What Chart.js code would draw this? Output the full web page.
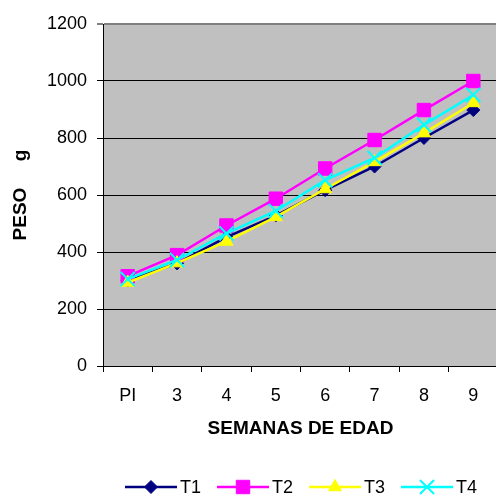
<!DOCTYPE html>
<html>
<head>
<meta charset="utf-8">
<script src="https://cdn.jsdelivr.net/npm/chart.js@4.4.1/dist/chart.umd.min.js"></script>
<style>
html,body{margin:0;padding:0;background:#fff;overflow:hidden;width:496px;height:498px;}
canvas{position:absolute;left:0;top:0;}
</style>
</head>
<body>
<canvas id="c" width="510" height="498"></canvas>
<script>
const categories = ['PI', '3', '4', '5', '6', '7', '8', '9'];
const T1 = [300, 360, 452, 528, 617, 700, 800, 898];
const T2 = [315, 389, 493, 587, 693, 793, 898, 1000];
const T3 = [293, 361, 437, 523, 621, 716, 817, 923];
const T4 = [305, 372, 465, 544, 652, 730, 846, 951];
const seriesNames = ['T1', 'T2', 'T3', 'T4'];
const yTicks = [0, 200, 400, 600, 800, 1000, 1200];

const FONT = "'Liberation Sans', Arial, sans-serif";

const styles = [
  {color: '#000080', point: 'rectRot', r: 6.5, bw: 1},
  {color: '#FF00FF', point: 'rect', r: 9.5, bw: 1},
  {color: '#FFFF00', point: 'triangle', r: 7.5, bw: 1},
  {color: '#00FFFF', point: 'crossRot', r: 10, bw: 2}
];
const values = [T1, T2, T3, T4];

const datasets = values.map((v, i) => ({
  label: seriesNames[i],
  data: v,
  borderColor: styles[i].color,
  backgroundColor: styles[i].color,
  borderWidth: 2.5,
  pointStyle: styles[i].point,
  pointRadius: styles[i].r,
  pointHoverRadius: styles[i].r,
  pointBorderWidth: styles[i].bw,
  pointBackgroundColor: styles[i].color,
  pointBorderColor: styles[i].color,
  tension: 0,
  order: 4 - i
}));

const bgPlugin = {
  id: 'plotbg',
  beforeDraw(chart) {
    const a = chart.chartArea, ctx = chart.ctx;
    ctx.save();
    ctx.fillStyle = '#C0C0C0';
    ctx.fillRect(a.left, a.top, a.right - a.left, a.bottom - a.top);
    ctx.restore();
  }
};

const legendPlugin = {
  id: 'customLegend',
  afterDraw(chart) {
    const ctx = chart.ctx;
    const y = 487;
    const lineLen = 52, gapText = 3, gapItem = 16;
    ctx.save();
    ctx.font = '18px ' + FONT;
    const items = chart.data.datasets.map(d => ({d, tw: ctx.measureText(d.label).width}));
    const total = items.reduce((s, it) => s + lineLen + gapText + it.tw, 0) + gapItem * (items.length - 1);
    let x = 301 - total / 2;
    items.forEach(it => {
      const d = it.d;
      ctx.strokeStyle = d.borderColor;
      ctx.lineWidth = 2.5;
      ctx.beginPath();
      ctx.moveTo(x, y);
      ctx.lineTo(x + lineLen, y);
      ctx.stroke();
      ctx.fillStyle = d.backgroundColor;
      ctx.strokeStyle = d.borderColor;
      ctx.lineWidth = d.pointBorderWidth;
      if (Chart.helpers && Chart.helpers.drawPoint) {
        Chart.helpers.drawPoint(ctx, {pointStyle: d.pointStyle, radius: d.pointRadius, borderWidth: d.pointBorderWidth, rotation: 0}, x + lineLen / 2, y);
      }
      ctx.fillStyle = '#000';
      ctx.textAlign = 'left';
      ctx.textBaseline = 'middle';
      ctx.fillText(d.label, x + lineLen + gapText, y + 1);
      x += lineLen + gapText + it.tw + gapItem;
    });
    ctx.restore();
  }
};

new Chart(document.getElementById('c'), {
  type: 'line',
  data: {labels: categories, datasets},
  plugins: [bgPlugin, legendPlugin],
  options: {
    responsive: false,
    animation: false,
    devicePixelRatio: 1,
    layout: {padding: {left: 0, right: 7, top: 24, bottom: 55}},
    plugins: {legend: {display: false}, tooltip: {enabled: false}},
    scales: {
      x: {
        offset: true,
        grid: {offset: true, drawOnChartArea: false, drawTicks: true, tickLength: 6, color: '#000'},
        border: {color: '#000', width: 1},
        ticks: {color: '#000', font: {family: FONT, size: 18}, padding: 13, maxRotation: 0, autoSkip: false},
        title: {display: true, text: 'SEMANAS DE EDAD', color: '#000', font: {family: FONT, size: 19, weight: 'bold'}, padding: {top: 0, bottom: 3}},
        afterFit(s) { s.height = 77; }
      },
      y: {
        min: 0, max: 1200,
        afterBuildTicks(s) { s.ticks = yTicks.map(v => ({value: v})); },
        grid: {color: (c) => c.tick && c.tick.value === 1200 ? '#808080' : '#000', lineWidth: (c) => c.tick && c.tick.value === 1200 ? 2 : 1, tickLength: 6},
        border: {color: '#000', width: 1},
        ticks: {color: '#000', font: {family: FONT, size: 18}, padding: 10, callback: (v) => String(v)},
        title: {display: true, text: 'PESO     g', color: '#000', font: {family: FONT, size: 19, weight: 'bold'}, padding: {top: 9, bottom: 0}},
        afterFit(s) { s.width = 103; }
      }
    }
  }
});
</script>
</body>
</html>
